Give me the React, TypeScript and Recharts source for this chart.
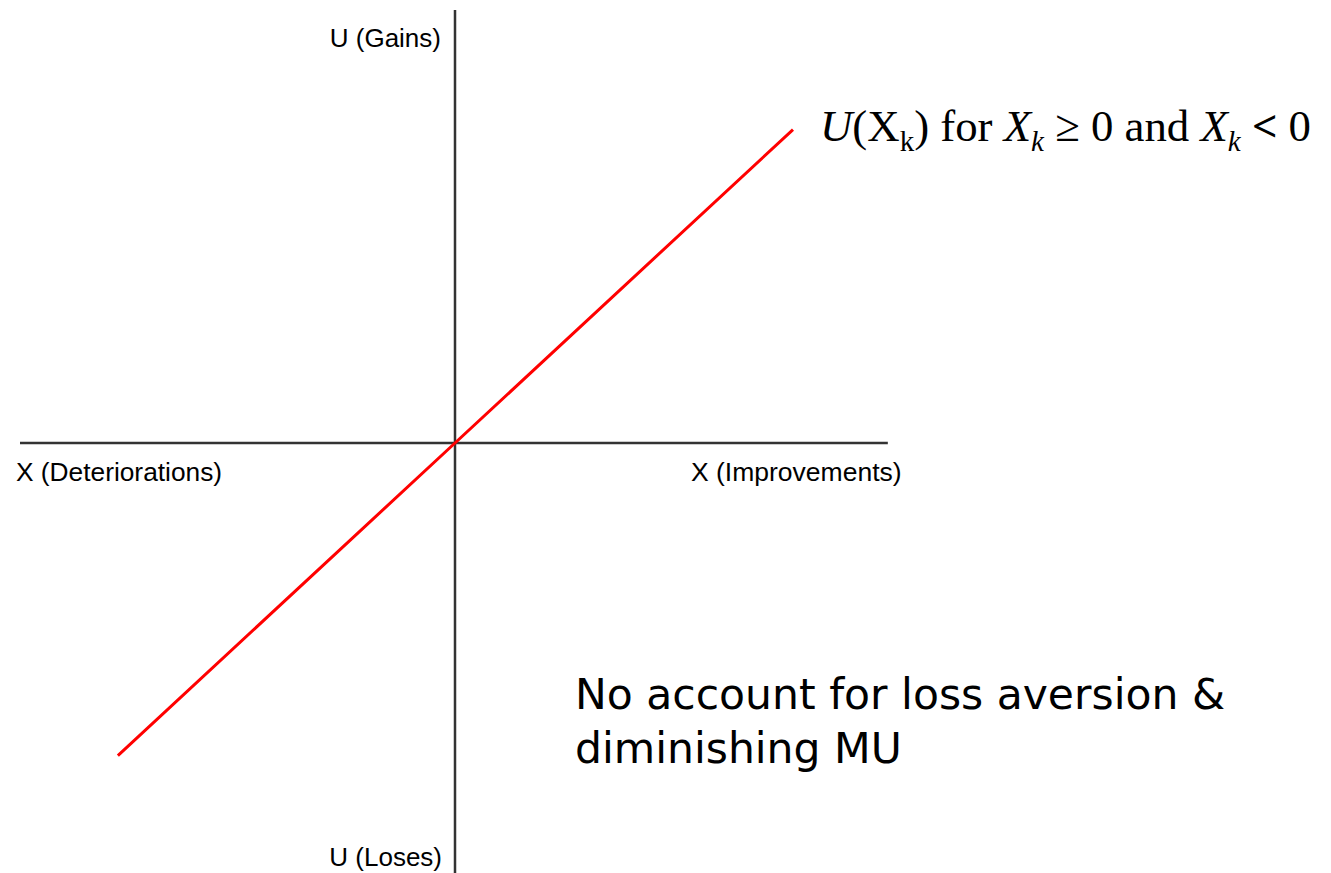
import { LineChart, Line, XAxis, YAxis, ReferenceLine, Customized } from 'recharts';

// utility curve: straight line through the origin
const xs = [-0.775, 0, 0.777];
const us = [-0.727, 0, 0.729];

const data = xs.map((x, i) => ({ x, u: us[i] }));

const axisLabels = {
    gains: 'U (Gains)',
    loses: 'U (Loses)',
    deteriorations: 'X (Deteriorations)',
    improvements: 'X (Improvements)',
};

const note = ['No account for loss aversion &', 'diminishing MU'];

const sans = 'Liberation Sans, Arial';

const Overlay = () => (
    <g>
        <text x={441} y={47} textAnchor="end" fontFamily={sans} fontSize={26} fill="#000">
            {axisLabels.gains}
        </text>
        <text x={442} y={866} textAnchor="end" fontFamily={sans} fontSize={26} fill="#000">
            {axisLabels.loses}
        </text>
        <text x={16} y={481} fontFamily={sans} fontSize={26.3} fill="#000">
            {axisLabels.deteriorations}
        </text>
        <text x={691} y={481} fontFamily={sans} fontSize={26.5} fill="#000">
            {axisLabels.improvements}
        </text>
        <text x={820} y={141} fontFamily="Liberation Serif, Times New Roman" fontSize={44.8} fill="#000">
            <tspan fontStyle="italic">U</tspan>
            <tspan>(X</tspan>
            <tspan fontSize={29} dy={10}>k</tspan>
            <tspan dy={-10}>) for </tspan>
            <tspan fontStyle="italic">X</tspan>
            <tspan fontStyle="italic" fontSize={29} dy={10}>k</tspan>
            <tspan dy={-10}> ≥ 0 and </tspan>
            <tspan fontStyle="italic">X</tspan>
            <tspan fontStyle="italic" fontSize={29} dy={10}>k</tspan>
            <tspan dy={-10}> </tspan>
            <tspan fontWeight="bold">&lt;</tspan>
            <tspan> 0</tspan>
        </text>
        <text x={575} y={709} fontFamily="DejaVu Sans" fontSize={42.5} fill="#000">
            {note[0]}
        </text>
        <text x={575} y={763} fontFamily="DejaVu Sans" fontSize={42.5} fill="#000">
            {note[1]}
        </text>
    </g>
);

export default function App() {
    return (
        <div style={{ position: 'absolute', left: 0, top: 0 }}>
            <LineChart width={1331} height={873} data={data} margin={{ top: 13, right: 441, bottom: 0, left: 20 }}>
                <XAxis dataKey="x" type="number" domain={[-1, 1]} hide />
                <YAxis type="number" domain={[-1, 1]} hide />
                <ReferenceLine
                    segment={[{ x: -1, y: 0 }, { x: 0.995, y: 0 }]}
                    stroke="#333"
                    strokeWidth={2.5}
                />
                <ReferenceLine
                    segment={[{ x: 0, y: -1 }, { x: 0, y: 1.007 }]}
                    stroke="#333"
                    strokeWidth={2.5}
                    ifOverflow="visible"
                />
                <Line
                    type="linear"
                    dataKey="u"
                    stroke="#ff0000"
                    strokeWidth={3}
                    dot={false}
                    isAnimationActive={false}
                />
                <Customized component={Overlay} />
            </LineChart>
        </div>
    );
}
